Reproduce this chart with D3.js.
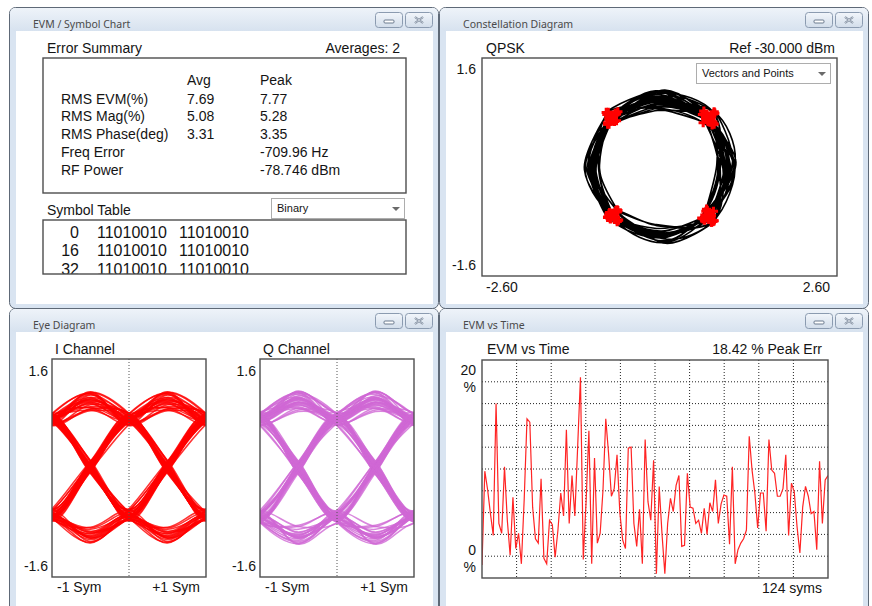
<!DOCTYPE html>
<html>
<head>
<meta charset="utf-8">
<script src="https://cdn.jsdelivr.net/npm/d3@7"></script>
<style>
  body { margin: 0; background: #fff; }
  svg { display: block; }
  .t { font-family: "Liberation Sans", Arial, sans-serif; fill: #141414; }
</style>
</head>
<body>
<svg id="chart" width="872" height="606"></svg>
<script>
// ---------- data ----------
const summaryHeaders = ["Avg", "Peak"];
const summaryLabels = ["RMS EVM(%)", "RMS Mag(%)", "RMS Phase(deg)", "Freq Error", "RF Power"];
const summaryAvg = ["7.69", "5.08", "3.31", "", ""];
const summaryPeak = ["7.77", "5.28", "3.35", "-709.96 Hz", "-78.746 dBm"];

const symbolIndex = ["0", "16", "32"];
const symbolWords = [
    ["11010010", "11010010"],
    ["11010010", "11010010"],
    ["11010010", "11010010"]
];

// I and Q samples, at every symbol time and half way between (97 symbols)
const iSamples = [
    0.74, 0.03, -0.64, -0.88, -0.66, -1.08, -0.76, -0.90, -0.62, 0.08,
    0.79, 1.10, 0.67, 0.86, 0.80, -0.04, -0.61, 0.09, 0.76, -0.07,
    -0.73, -1.09, -0.63, 0.06, 0.78, -0.02, -0.75, -0.87, -0.62, -1.03,
    -0.77, -1.10, -0.60, 0.10, 0.68, 1.11, 0.80, -0.05, -0.66, 0.08,
    0.77, 0.88, 0.64, 1.07, 0.81, 0.85, 0.70, 1.12, 0.63, 0.93,
    0.78, -0.08, -0.62, 0.07, 0.69, 0.90, 0.79, 0.10, -0.76, -0.03,
    0.65, 0.06, -0.63, -0.06, 0.80, 1.09, 0.66, 0.84, 0.77, 0.09,
    -0.78, -0.04, 0.64, 1.10, 0.79, 0.11, -0.64, -0.02, 0.76, 0.89,
    0.71, 1.08, 0.62, 0.87, 0.80, 0.05, -0.74, 0.07, 0.67, -0.06,
    -0.61, 0.10, 0.78, -0.01, -0.65, -1.05, -0.76,
    -0.97, -0.71, -1.01, -0.74, -0.94, -0.69, -1.03, -0.72, 0.03, 0.70,
    -0.02, -0.73, -0.96, -0.68, -1.02, -0.75, -0.99, -0.70, -0.93, -0.72,
    0.04, 0.74, 0.00, -0.69, 0.02, 0.72, 0.98, 0.75, -0.03, -0.71,
    0.02, 0.70, 1.01, 0.73, 0.95, 0.68, 1.04, 0.74, 0.01, -0.70,
    -0.04, 0.71, 0.03, -0.73, -0.01, 0.69, 0.97, 0.72, 1.02, 0.76,
    0.94, 0.71, 1.00, 0.69, 0.02, -0.72, -0.03, 0.74, 0.99, 0.70,
    0.04, -0.69, -0.02, 0.73, 0.01, -0.74, 0.03, 0.71, -0.04, -0.70,
    0.02, 0.75, 1.03, 0.72, 0.96, 0.68, 0.00, -0.73, 0.03, 0.71,
    -0.02, -0.72, 0.04, 0.74, 0.01, -0.69, -1.00, -0.71, -0.95, -0.74,
    0.02, 0.70, -0.01, -0.72, 0.03, 0.73
];
const qSamples = [
    0.66, 1.09, 0.79, -0.08, -0.77, 0.05, 0.63, 0.09, -0.80, -1.11,
    -0.65, -0.06, 0.76, 0.07, -0.79, -0.86, -0.64, -1.12, -0.81, -0.90,
    -0.67, -0.02, 0.78, 1.10, 0.64, 0.85, 0.80, -0.09, -0.63, 0.06,
    0.77, -0.04, -0.78, -1.08, -0.65, 0.10, 0.81, 0.88, 0.67, 1.13,
    0.62, -0.05, -0.76, 0.08, 0.79, -0.10, -0.64, 0.07, 0.77, -0.03,
    -0.80, -0.84, -0.66, -1.10, -0.62, 0.09, 0.78, 1.04, 0.65, 0.83,
    0.82, 1.11, 0.68, 0.92, 0.63, -0.08, -0.78, 0.05, 0.66, 1.12,
    0.80, 0.87, 0.65, 0.06, -0.79, -1.06, -0.64, -0.86, -0.81, -0.04,
    0.67, 0.10, -0.75, -0.07, 0.79, 1.08, 0.63, 0.88, 0.77, 1.12,
    0.81, 0.90, 0.66, 1.06, 0.78, 0.05, -0.74,
    0.02, 0.73, -0.03, -0.69, 0.04, 0.75, -0.01, -0.71, -0.98, -0.74,
    -1.02, -0.70, 0.01, 0.72, -0.04, -0.73, 0.03, 0.69, -0.02, -0.76,
    -1.04, -0.70, -0.95, -0.72, -1.01, -0.68, 0.03, 0.71, 1.02, 0.74,
    0.96, 0.70, -0.02, -0.73, 0.04, 0.72, 0.00, -0.75, -0.99, -0.69,
    -1.03, -0.71, -0.94, -0.74, -1.00, -0.70, -0.03, 0.73, 0.02, -0.71,
    -0.01, 0.68, 0.04, -0.72, -0.97, -0.75, -1.02, -0.69, 0.01, 0.74,
    0.93, 0.71, 1.01, 0.69, 0.97, 0.73, 1.04, 0.72, 0.95, 0.76,
    1.00, 0.70, -0.02, -0.73, 0.03, 0.71, 1.02, 0.69, 0.94, 0.74,
    0.99, 0.72, 1.03, 0.68, 0.96, 0.73, 0.02, -0.72, -0.03, 0.70,
    1.01, 0.75, 0.97, 0.71, 1.02, 0.69
];

// EVM (%) per symbol, 124 symbols
const evmValues = [
    1.2, 9.8, 8.1, 5.9, 3.9, 16.0, 5.0, 4.1, 10.2, 5.3,
    2.1, 7.4, 2.7, 4.1, 1.3, 7.2, 14.6, 14.3, 6.5, 3.6,
    3.2, 9.1, 1.8, 1.3, 5.3, 4.9, 1.9, 4.4, 7.8, 5.7,
    13.6, 5.0, 9.4, 5.7, 12.0, 18.42, 1.7, 7.0, 13.5, 1.3,
    11.0, 3.2, 4.1, 8.0, 14.6, 11.4, 7.5, 8.2, 11.3, 6.0,
    3.5, 2.7, 11.9, 12.0, 5.0, 2.9, 6.3, 1.3, 12.7, 7.0,
    5.3, 10.8, 0.4, 8.4, 4.0, 0.4, 5.0, 7.3, 6.1, 8.5,
    9.4, 2.9, 3.0, 9.6, 6.5, 6.4, 5.0, 5.3, 4.1, 6.4,
    4.0, 6.9, 6.1, 9.0, 5.0, 6.8, 7.6, 7.5, 3.1, 10.2,
    1.3, 2.6, 3.2, 3.6, 4.4, 13.0, 9.9, 7.8, 4.6, 7.8,
    7.8, 4.3, 12.7, 9.9, 9.6, 7.5, 7.5, 8.2, 11.3, 3.9,
    8.7, 7.9, 4.7, 2.3, 6.5, 8.4, 7.5, 5.9, 6.1, 2.6,
    10.7, 5.0, 9.0, 9.4
];

const svg = d3.select("#chart");
const defs = svg.append("defs");

const titleGrad = defs.append("linearGradient").attr("id", "titleGrad")
    .attr("x1", 0).attr("y1", 0).attr("x2", 0).attr("y2", 1);
titleGrad.append("stop").attr("offset", "0%").attr("stop-color", "#eef3f9");
titleGrad.append("stop").attr("offset", "100%").attr("stop-color", "#d7e2ef");

const btnGrad = defs.append("linearGradient").attr("id", "btnGrad")
    .attr("x1", 0).attr("y1", 0).attr("x2", 0).attr("y2", 1);
btnGrad.append("stop").attr("offset", "0%").attr("stop-color", "#f2f6fb");
btnGrad.append("stop").attr("offset", "100%").attr("stop-color", "#d2ddea");

function addClip(id, x, y, w, h) {
    defs.append("clipPath").attr("id", id)
        .append("rect").attr("x", x).attr("y", y).attr("width", w).attr("height", h);
}

function label(x, y, txt, size, anchor) {
    return svg.append("text")
        .attr("class", "t")
        .attr("x", x)
        .attr("y", y)
        .attr("font-size", size || 14)
        .attr("text-anchor", anchor || "start")
        .text(txt);
}

function drawWindow(x, y, w, h, title) {
    const g = svg.append("g");
    g.append("rect")
        .attr("x", x + 0.5).attr("y", y + 0.5)
        .attr("width", w - 1).attr("height", h - 1)
        .attr("rx", 6)
        .attr("fill", "#d9e4f1")
        .attr("stroke", "#5e6977");
    g.append("rect")
        .attr("x", x + 1).attr("y", y + 1)
        .attr("width", w - 2).attr("height", 23)
        .attr("rx", 5)
        .attr("fill", "url(#titleGrad)");
    g.append("rect")
        .attr("x", x + 7).attr("y", y + 24)
        .attr("width", w - 13).attr("height", h - 29)
        .attr("fill", "#fff");
    g.append("text")
        .attr("x", x + 24).attr("y", y + 21)
        .attr("font-family", "'Noto Sans', 'Open Sans', sans-serif")
        .attr("font-size", 10.5)
        .attr("fill", "#4a4a4a")
        .text(title);

    // minimize / close buttons
    const bx = x + w - 64;
    [0, 30].forEach(function (dx, i) {
        g.append("rect")
            .attr("x", bx + dx + 0.5).attr("y", y + 5.5)
            .attr("width", 27).attr("height", 15)
            .attr("rx", 3)
            .attr("fill", "url(#btnGrad)")
            .attr("stroke", "#8b9bb0");
        const cx = bx + dx + 14, cy = y + 13;
        if (i == 0) {
            g.append("rect")
                .attr("x", cx - 5).attr("y", cy)
                .attr("width", 10).attr("height", 3)
                .attr("rx", 1)
                .attr("fill", "#fff")
                .attr("stroke", "#6b7a8e");
        } else {
            g.append("path")
                .attr("d", `M${cx - 4},${cy - 3}L${cx + 4},${cy + 3}M${cx + 4},${cy - 3}L${cx - 4},${cy + 3}`)
                .attr("stroke", "#6b7a8e")
                .attr("stroke-width", 2);
            g.append("path")
                .attr("d", `M${cx - 4},${cy - 3}L${cx + 4},${cy + 3}M${cx + 4},${cy - 3}L${cx - 4},${cy + 3}`)
                .attr("stroke", "#f4f7fb")
                .attr("stroke-width", 0.7);
        }
    });
}

function box(x, y, w, h) {
    svg.append("rect")
        .attr("x", x).attr("y", y)
        .attr("width", w).attr("height", h)
        .attr("fill", "none")
        .attr("stroke", "#4d4d4d")
        .attr("stroke-width", 1.4);
}

function dropdown(x, y, w, h, txt) {
    svg.append("rect")
        .attr("x", x + 0.5).attr("y", y + 0.5)
        .attr("width", w).attr("height", h)
        .attr("fill", "#fff")
        .attr("stroke", "#adadad");
    label(x + 6, y + 14, txt, 11);
    const ax = x + w - 8, ay = y + h / 2 - 1;
    svg.append("path")
        .attr("d", `M${ax - 4},${ay}L${ax + 4},${ay}L${ax},${ay + 4}Z`)
        .attr("fill", "#6a6a6a");
}

// ---------- windows ----------
drawWindow(9, 7, 430, 302, "EVM / Symbol Chart");
drawWindow(439, 7, 430, 302, "Constellation Diagram");
drawWindow(9, 308, 430, 310, "Eye Diagram");
drawWindow(439, 308, 430, 310, "EVM vs Time");

// ---------- EVM / Symbol Chart ----------
label(47, 53, "Error Summary");
label(400, 53, "Averages: 2", 14, "end");
box(43, 58, 363, 135);

const colX = [187, 260];
summaryHeaders.forEach(function (h, i) { label(colX[i], 85, h); });
summaryLabels.forEach(function (name, i) {
    const y = 103.5 + i * 17.9;
    label(61, y, name);
    label(colX[0], y, summaryAvg[i]);
    label(colX[1], y, summaryPeak[i]);
});

label(47, 215, "Symbol Table");
dropdown(271, 198, 133, 20, "Binary");

addClip("clipSym", 43, 220, 363, 54);
const symG = svg.append("g").attr("clip-path", "url(#clipSym)");
symbolIndex.forEach(function (s, i) {
    const y = 238 + i * 18.3;
    symG.append("text").attr("class", "t").attr("font-size", 16)
        .attr("x", 79).attr("y", y).attr("text-anchor", "end").text(s);
    symbolWords[i].forEach(function (wd, j) {
        symG.append("text").attr("class", "t").attr("font-size", 16)
            .attr("x", 97 + j * 82).attr("y", y).text(wd);
    });
});
box(43, 220, 363, 54);

// ---------- Constellation ----------
const xC = d3.scaleLinear().domain([-2.6, 2.6]).range([482, 837]);
const yC = d3.scaleLinear().domain([-1.6, 1.6]).range([276, 58]);

label(486, 53, "QPSK");
label(835, 53, "Ref -30.000 dBm", 14, "end");

addClip("clipConst", 482, 58, 355, 218);
const constG = svg.append("g").attr("clip-path", "url(#clipConst)");
const iq = iSamples.map(function (v, k) { return [v, qSamples[k]]; });
constG.append("path")
    .datum(iq)
    .attr("fill", "none")
    .attr("stroke", "#000")
    .attr("stroke-width", 1.6)
    .attr("stroke-linejoin", "round")
    .attr("d", d3.line()
        .x(function (d) { return xC(d[0]); })
        .y(function (d) { return yC(d[1]); })
        .curve(d3.curveCatmullRom.alpha(0.5)));
constG.selectAll(".pt")
    .data(iq.filter(function (d, k) { return k % 2 == 0; }))
    .join("path")
    .attr("transform", function (d) { return `translate(${xC(d[0])},${yC(d[1])})`; })
    .attr("d", d3.symbol(d3.symbolCross).size(48))
    .attr("fill", "#ff0000");

box(482, 58, 355, 218);
dropdown(696, 63, 134, 20, "Vectors and Points");

label(476, 74, "1.6", 14, "end");
label(476, 270, "-1.6", 14, "end");
label(486, 292, "-2.60");
label(830, 292, "2.60", 14, "end");

// ---------- Eye Diagram ----------
const yE = d3.scaleLinear().domain([-1.6, 1.6]).range([577, 359]);

function eye(samples, left, title, color, clipId) {
    const xE = d3.scaleLinear().domain([-1, 1]).range([left, left + 154]);
    label(left + 3, 354, title);
    addClip(clipId, left, 359, 154, 218);
    const g = svg.append("g").attr("clip-path", `url(#${clipId})`);

    // one trace per symbol: two symbols wide, with a neighbour sample each side
    const traces = d3.range(0, (samples.length - 3) / 2).map(function (k) {
        const pts = [];
        for (let j = 2 * k - 1; j <= 2 * k + 5; j++) {
            if (j >= 0 && j < samples.length) pts.push({ t: -1 + (j - 2 * k) * 0.5, v: samples[j] });
        }
        return pts;
    });
    const line = d3.line()
        .x(function (d) { return xE(d.t); })
        .y(function (d) { return yE(d.v); })
        .curve(d3.curveCatmullRom.alpha(0.5));
    g.selectAll("path")
        .data(traces)
        .join("path")
        .attr("fill", "none")
        .attr("stroke", color)
        .attr("stroke-width", 1.5)
        .attr("stroke-opacity", 0.8)
        .attr("d", line);

    svg.append("line")
        .attr("x1", xE(0)).attr("x2", xE(0))
        .attr("y1", 359).attr("y2", 577)
        .attr("stroke", "#555")
        .attr("stroke-dasharray", "1,2");
    box(left, 359, 154, 218);

    label(left - 4, 376, "1.6", 14, "end");
    label(left - 4, 571, "-1.6", 14, "end");
    label(left + 5, 592, "-1 Sym");
    label(left + 148, 592, "+1 Sym", 14, "end");
}

eye(iSamples, 52, "I Channel", "#ff0000", "clipEyeI");
eye(qSamples, 260, "Q Channel", "#d068d4", "clipEyeQ");

// ---------- EVM vs Time ----------
const xT = d3.scaleLinear().domain([0, evmValues.length - 1]).range([482, 828]);
const yT = d3.scaleLinear().domain([0, 20]).range([578, 360]);
const xGrid = d3.scaleLinear().domain([0, 10]).range([482, 828]);

label(487, 354, "EVM vs Time");
label(822, 354, "18.42 % Peak Err", 14, "end");

const gridG = svg.append("g")
    .attr("stroke", "#222")
    .attr("stroke-dasharray", "1,2");
d3.range(1, 10).forEach(function (i) {
    gridG.append("line")
        .attr("x1", xGrid(i)).attr("x2", xGrid(i))
        .attr("y1", 360).attr("y2", 578);
});
d3.range(2, 20, 2).forEach(function (v) {
    gridG.append("line")
        .attr("x1", 482).attr("x2", 828)
        .attr("y1", yT(v)).attr("y2", yT(v));
});

addClip("clipEvm", 482, 360, 346, 218);
svg.append("path")
    .datum(evmValues)
    .attr("clip-path", "url(#clipEvm)")
    .attr("fill", "none")
    .attr("stroke", "#ff2424")
    .attr("stroke-width", 1.2)
    .attr("d", d3.line()
        .x(function (d, i) { return xT(i); })
        .y(function (d) { return yT(d); }));

box(482, 360, 346, 218);

label(476, 375, "20", 14, "end");
label(476, 392, "%", 14, "end");
label(476, 555, "0", 14, "end");
label(476, 572, "%", 14, "end");
label(822, 593, "124 syms", 14, "end");
</script>
</body>
</html>
